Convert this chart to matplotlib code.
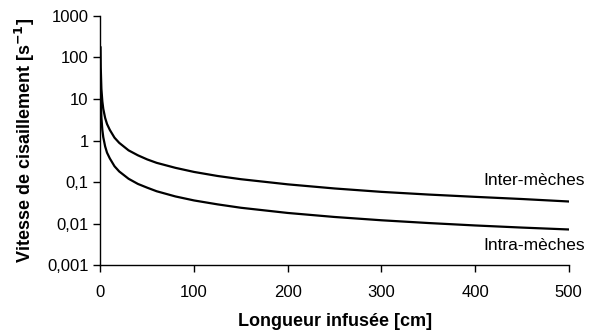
import matplotlib
matplotlib.use("Agg")
import matplotlib.pyplot as plt

# values (log y scale)
longueur = [0.1, 0.3, 1, 2, 3, 5, 7, 10, 15, 20, 30, 40, 50, 60, 80, 100,
            125, 150, 200, 250, 300, 350, 400, 450, 500]
inter_meches = [175, 58, 17.5, 8.8, 5.8, 3.5, 2.5, 1.8, 1.17, 0.88, 0.58, 0.44,
                0.35, 0.29, 0.22, 0.175, 0.14, 0.117, 0.088, 0.07, 0.058, 0.05,
                0.044, 0.039, 0.034]
intra_meches = [36, 12, 3.6, 1.8, 1.2, 0.72, 0.51, 0.37, 0.24, 0.18, 0.12, 0.09,
                0.073, 0.06, 0.045, 0.036, 0.029, 0.024, 0.018, 0.0144, 0.012,
                0.0103, 0.009, 0.008, 0.0072]

y_ticks = [0.001, 0.01, 0.1, 1, 10, 100, 1000]
y_ticklabels = ["0,001", "0,01", "0,1", "1", "10", "100", "1000"]
x_ticks = [0, 100, 200, 300, 400, 500]

plt.rcParams["font.family"] = ["Liberation Sans", "DejaVu Sans"]

fig = plt.figure(figsize=(5.98, 3.33), dpi=100)
ax = fig.add_axes([0.168, 0.204, 0.783, 0.748])

ax.plot(longueur, inter_meches, color="black", lw=1.6)
ax.plot(longueur, intra_meches, color="black", lw=1.6)

ax.set_yscale("log")
ax.set_xlim(0, 500)
ax.set_ylim(0.001, 1000)
ax.set_yticks(y_ticks)
ax.set_yticklabels(y_ticklabels)
ax.minorticks_off()
ax.set_xticks(x_ticks)

for s in ["top", "right"]:
    ax.spines[s].set_visible(False)
for s in ["left", "bottom"]:
    ax.spines[s].set_linewidth(1.0)
ax.tick_params(direction="out", length=5, width=1.0, labelsize=12, colors="black")
ax.tick_params(axis="x", pad=9)

ax.set_xlabel("Longueur infusée [cm]", fontsize=13, fontweight="bold", labelpad=10)
ax.set_ylabel("Vitesse de cisaillement [s$^{\\mathbf{-1}}$]", fontsize=13,
              fontweight="bold", labelpad=7)

ax.text(1.035, 0.34, "Inter-mèches", transform=ax.transAxes, ha="right",
        va="center", fontsize=12.5)
ax.text(1.035, 0.078, "Intra-mèches", transform=ax.transAxes, ha="right",
        va="center", fontsize=12.5)

fig.savefig("out.png", dpi=100)
